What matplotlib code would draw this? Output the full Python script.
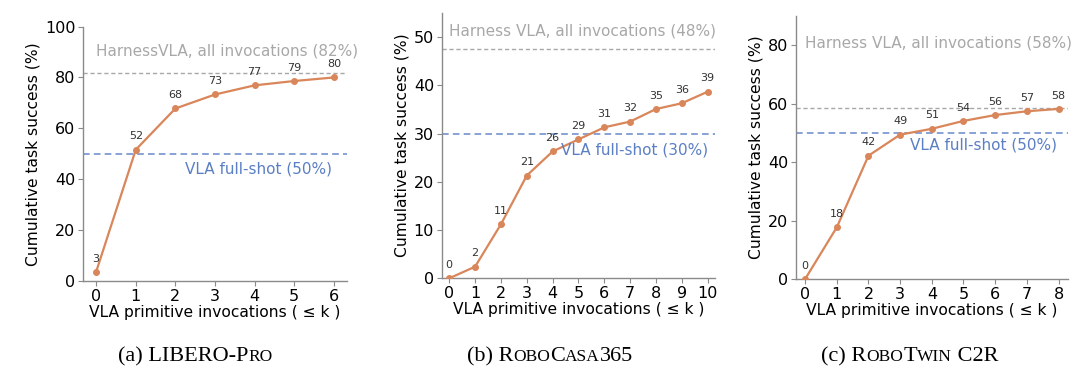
import matplotlib
matplotlib.use("Agg")
import matplotlib.pyplot as plt

# panel data
libero_k = [0, 1, 2, 3, 4, 5, 6]
libero_succ = [3.6, 51.6, 67.8, 73.3, 76.9, 78.6, 80.0]
libero_lbl = ["3", "52", "68", "73", "77", "79", "80"]

casa_k = [0, 1, 2, 3, 4, 5, 6, 7, 8, 9, 10]
casa_succ = [0.0, 2.4, 11.2, 21.3, 26.3, 28.8, 31.3, 32.5, 35.1, 36.3, 38.7]
casa_lbl = ["0", "2", "11", "21", "26", "29", "31", "32", "35", "36", "39"]

twin_k = [0, 1, 2, 3, 4, 5, 6, 7, 8]
twin_succ = [0.0, 17.7, 42.2, 49.4, 51.4, 54.1, 56.1, 57.4, 58.2]
twin_lbl = ["0", "18", "42", "49", "51", "54", "56", "57", "58"]

harness_val = [81.8, 47.6, 58.6]
harness_txt = ["HarnessVLA, all invocations (82%)",
               "Harness VLA, all invocations (48%)",
               "Harness VLA, all invocations (58%)"]
fullshot_val = [50, 30, 50]
fullshot_txt = ["VLA full-shot (50%)", "VLA full-shot (30%)", "VLA full-shot (50%)"]

ORANGE = "#D9865A"
BLUE = "#5B7FC4"
GREY = "#A8A8A8"
SPINE = "#8a8a8a"

fig = plt.figure(figsize=(10.8, 3.72), dpi=100)

panels = [
    dict(k=libero_k, y=libero_succ, lbl=libero_lbl, rect=[0.0769, 0.2446, 0.2444, 0.684],
         xlim=(-0.33, 6.33), ylim=(0, 100), yticks=[0, 20, 40, 60, 80, 100],
         htxt_y=90.5, ftxt_x=5.95, ftxt_y=44.0),
    dict(k=casa_k, y=casa_succ, lbl=casa_lbl, rect=[0.409, 0.2519, 0.253, 0.713],
         xlim=(-0.29, 10.28), ylim=(0, 55), yticks=[0, 10, 20, 30, 40, 50],
         htxt_y=51.2, ftxt_x=10.0, ftxt_y=26.6),
    dict(k=twin_k, y=twin_succ, lbl=twin_lbl, rect=[0.737, 0.25, 0.2516, 0.707],
         xlim=(-0.29, 8.29), ylim=(0, 90), yticks=[0, 20, 40, 60, 80],
         htxt_y=80.8, ftxt_x=7.95, ftxt_y=46.0),
]

for i, p in enumerate(panels):
    ax = fig.add_axes(p["rect"])
    ax.axhline(harness_val[i], color=GREY, ls=(0, (3, 2)), lw=1.0, zorder=1)
    ax.axhline(fullshot_val[i], color=BLUE, ls=(0, (4, 2.5)), lw=1.2, alpha=0.85, zorder=1)
    ax.plot(p["k"], p["y"], color=ORANGE, lw=1.6, marker="o", ms=4, zorder=3)
    for xk, yv, s in zip(p["k"], p["y"], p["lbl"]):
        ax.annotate(s, (xk, yv), xytext=(0, 6), textcoords="offset points",
                    ha="center", va="bottom", fontsize=8, color="#333333")
    ax.text(0, p["htxt_y"], harness_txt[i], color=GREY, fontsize=11,
            ha="left", va="center", clip_on=False)
    ax.text(p["ftxt_x"], p["ftxt_y"], fullshot_txt[i], color=BLUE, fontsize=11,
            ha="right", va="center")
    ax.set_xlim(*p["xlim"])
    ax.set_ylim(*p["ylim"])
    ax.set_xticks(p["k"])
    ax.set_yticks(p["yticks"])
    ax.tick_params(labelsize=11.5, length=3.5, color=SPINE, pad=2)
    for side in ["top", "right"]:
        ax.spines[side].set_visible(False)
    for side in ["left", "bottom"]:
        ax.spines[side].set_color(SPINE)
        ax.spines[side].set_linewidth(1.0)
    ax.set_xlabel("VLA primitive invocations ( \u2264 k )", fontsize=11.2, labelpad=1)
    ax.set_ylabel("Cumulative task success (%)", fontsize=11.2, labelpad=3)

# captions with fake small caps
captions = [
    (195, [("(a) LIBERO-P", 16), ("RO", 12.5)]),
    (550, [("(b) R", 16), ("OBO", 12.5), ("C", 16), ("ASA", 12.5), ("365", 16)]),
    (910, [("(c) R", 16), ("OBO", 12.5), ("T", 16), ("WIN", 12.5), (" C2R", 16)]),
]
fig.canvas.draw()
r = fig.canvas.get_renderer()
for cx, parts in captions:
    texts = []
    widths = []
    for s, fs in parts:
        t = fig.text(0, 0, s, fontsize=fs, family="Liberation Serif", va="baseline")
        texts.append(t)
        widths.append(t.get_window_extent(r).width)
    x = cx - sum(widths) / 2
    for t, w in zip(texts, widths):
        t.set_position((x / 1080, 1 - 361 / 372))
        x += w

fig.savefig("out.png", dpi=100)
